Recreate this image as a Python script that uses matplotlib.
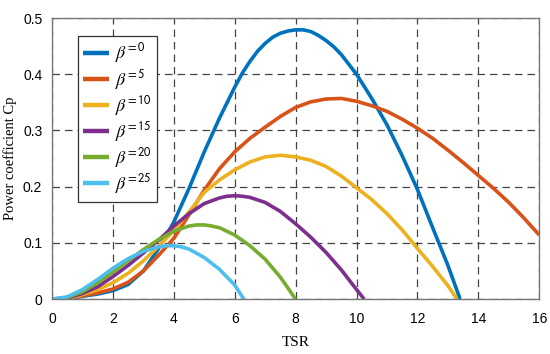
import matplotlib
matplotlib.use('agg')
import matplotlib.pyplot as plt

# values, Cp vs TSR
tsr_b0 = [0, 0.5, 1, 1.5, 2, 2.5, 3, 3.5, 4, 4.5, 5, 5.5, 6, 6.25, 6.5, 6.75,
          7, 7.25, 7.5, 7.75, 8, 8.25, 8.5, 8.75, 9, 9.25, 9.5, 10, 10.5, 11,
          11.5, 12, 12.5, 13, 13.4]
cp_b0 = [0, 0.001, 0.005, 0.009, 0.015, 0.026, 0.05, 0.09, 0.137, 0.197, 0.262,
         0.322, 0.377, 0.402, 0.423, 0.441, 0.455, 0.466, 0.473, 0.477, 0.479,
         0.479, 0.476, 0.469, 0.46, 0.449, 0.435, 0.40, 0.357, 0.31, 0.255,
         0.195, 0.127, 0.06, 0]

tsr_b5 = [0, 0.5, 1, 1.5, 2, 2.5, 3, 3.5, 4, 4.5, 5, 5.5, 6, 6.5, 7, 7.5, 8,
          8.5, 9, 9.5, 10, 10.5, 11, 11.5, 12, 12.5, 13, 13.5, 14, 14.5, 15,
          15.5, 16]
cp_b5 = [0, 0.001, 0.006, 0.011, 0.018, 0.03, 0.05, 0.078, 0.108, 0.15, 0.194,
         0.232, 0.262, 0.286, 0.306, 0.325, 0.341, 0.351, 0.356, 0.357, 0.352,
         0.344, 0.334, 0.32, 0.304, 0.286, 0.265, 0.243, 0.22, 0.197, 0.172,
         0.144, 0.114]

tsr_b10 = [0, 0.5, 1, 1.5, 2, 2.5, 3, 3.5, 4, 4.5, 5, 5.5, 6, 6.5, 7, 7.5, 8,
           8.5, 9, 9.5, 10, 10.5, 11, 11.5, 12, 12.5, 13, 13.3]
cp_b10 = [0, 0.001, 0.008, 0.017, 0.029, 0.046, 0.068, 0.094, 0.122, 0.155,
          0.19, 0.212, 0.23, 0.244, 0.253, 0.256, 0.253, 0.247, 0.236, 0.219,
          0.198, 0.177, 0.152, 0.123, 0.09, 0.058, 0.024, 0]

tsr_b15 = [0, 0.5, 1, 1.5, 2, 2.5, 3, 3.5, 4, 4.5, 5, 5.5, 5.75, 6, 6.25, 6.5,
           7, 7.5, 8, 8.5, 9, 9.5, 10, 10.25]
cp_b15 = [0, 0.002, 0.01, 0.022, 0.04, 0.06, 0.082, 0.105, 0.13, 0.152, 0.17,
          0.18, 0.183, 0.184, 0.183, 0.181, 0.172, 0.156, 0.134, 0.11, 0.083,
          0.052, 0.017, 0]

tsr_b20 = [0, 0.5, 1, 1.5, 2, 2.5, 3, 3.5, 4, 4.5, 4.75, 5, 5.25, 5.5, 6, 6.5,
           7, 7.5, 8]
cp_b20 = [0, 0.003, 0.013, 0.029, 0.048, 0.068, 0.088, 0.106, 0.121, 0.13,
          0.132, 0.132, 0.13, 0.127, 0.114, 0.095, 0.071, 0.039, 0]

tsr_b25 = [0, 0.5, 1, 1.5, 2, 2.5, 3, 3.5, 3.75, 4, 4.25, 4.5, 5, 5.5, 6, 6.3]
cp_b25 = [0, 0.004, 0.017, 0.035, 0.055, 0.072, 0.085, 0.093, 0.095, 0.095,
          0.093, 0.089, 0.074, 0.053, 0.025, 0]

labels = ['0', '5', '10', '15', '20', '25']
colors = ['#0072BD', '#D95319', '#EDB120', '#7E2F8E', '#77AC30', '#4DBEEE']

plt.rcParams['mathtext.fontset'] = 'stix'

fig = plt.figure(figsize=(5.5, 3.54), dpi=100)
ax = fig.add_axes([0.0945, 0.155, 0.886, 0.794])

curves = [(tsr_b0, cp_b0), (tsr_b5, cp_b5), (tsr_b10, cp_b10),
          (tsr_b15, cp_b15), (tsr_b20, cp_b20), (tsr_b25, cp_b25)]
for (x, y), lab, c in zip(curves, labels, colors):
    ax.plot(x, y, color=c, lw=2.6, solid_capstyle='butt', solid_joinstyle='round',
            label=r'$\mathit{\beta}^{\!\mathsf{=' + lab + '}}$')

ax.set_xlim(0, 16)
ax.set_ylim(0, 0.5)
ax.set_xticks(range(0, 17, 2))
ax.set_yticks([0, 0.1, 0.2, 0.3, 0.4, 0.5])
ax.set_yticklabels(['0', '0.1', '0.2', '0.3', '0.4', '0.5'])
ax.tick_params(length=0, labelsize=10)
ax.tick_params(axis='x', pad=9)
ax.tick_params(axis='y', pad=7)
for t in ax.get_xticklabels() + ax.get_yticklabels():
    t.set_family('Liberation Sans')
ax.grid(True, color='#444444', ls=(0, (6, 4)), lw=0.9)
ax.set_axisbelow(True)
for s in ax.spines.values():
    s.set_color('#777777')
    s.set_linewidth(1.0)

ax.set_xlabel('TSR', family='Liberation Serif', fontsize=11)
ax.xaxis.set_label_coords(0.5, -0.13)
ax.set_ylabel('Power coefficient Cp', family='Liberation Serif', fontsize=10.5)
ax.yaxis.set_label_coords(-0.072, 0.5)

leg = ax.legend(loc='upper left', bbox_to_anchor=(0.053, 0.936),
                borderaxespad=0, fontsize=13, fancybox=False, framealpha=1,
                edgecolor='#333333', handlelength=1.45, handletextpad=0.3,
                labelspacing=0.12, borderpad=0.3)
for l in leg.get_lines():
    l.set_linewidth(3.2)
leg.get_frame().set_linewidth(0.9)

fig.savefig('out.png', dpi=100)
